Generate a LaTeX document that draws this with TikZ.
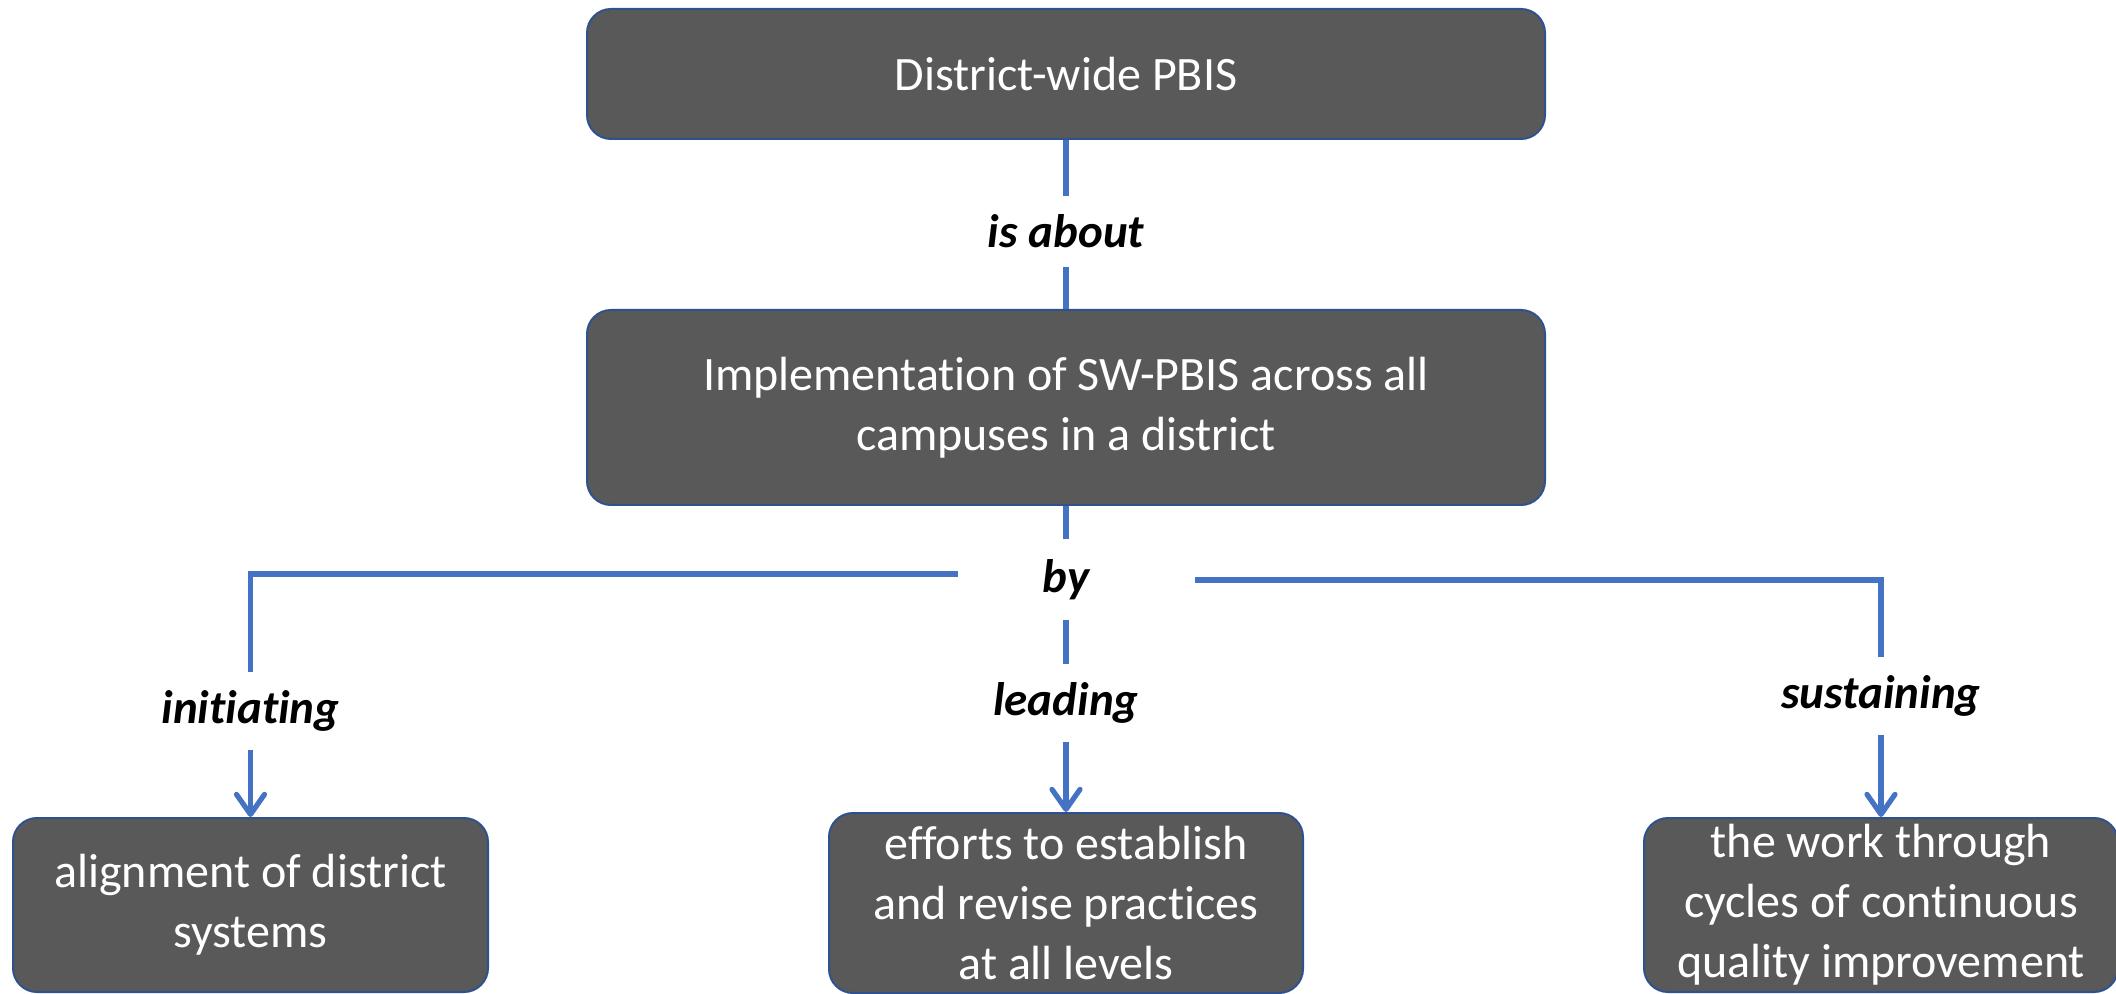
\documentclass[tikz,border=0pt]{standalone}
\usepackage{fontspec}
\setmainfont[Ligatures=NoCommon]{Carlito}
\usetikzlibrary{arrows.meta}
\definecolor{boxfill}{HTML}{595959}
\definecolor{boxedge}{HTML}{2F528F}
\definecolor{connblue}{HTML}{4472C4}
\begin{document}
\begin{tikzpicture}[x=0.5pt,y=-0.5pt,
  box/.style={draw=boxedge, line width=1pt, fill=boxfill, rounded corners=12pt,
    text=white, align=center, font=\fontsize{24}{30}\selectfont, inner sep=0pt},
  lbl/.style={fill=white, inner sep=0pt, font=\fontsize{23.5}{28}\selectfont\bfseries\itshape},
  conn/.style={draw=connblue, line width=2.6pt},
  arr/.style={conn, -{Straight Barb[length=10pt, width=14pt, round]}}
]
\useasboundingbox (0,0) rectangle (2116,994);

\node[box, minimum width=479pt, minimum height=65pt] (top) at (1066,74) {District-wide PBIS};
\node[box, minimum width=479pt, minimum height=97.5pt] (mid) at (1066,407.5) {Implementation of SW-PBIS across all\\campuses in a district};
\node[box, minimum width=237.5pt, minimum height=87pt] (b1) at (250.5,905) {alignment of district\\systems};
\node[box, minimum width=237pt, minimum height=90pt] (b2) at (1066,903) {efforts to establish\\and revise practices\\at all levels};
\node[box, minimum width=237pt, minimum height=87pt] (b3) at (1881,905) {the work through\\cycles of continuous\\quality improvement};

\coordinate (byL) at (958,574);
\coordinate (byR) at (1195,580);

\draw[conn] (top.south) -- (mid.north);
\draw[arr] (mid.south) -- (b2.north);
\draw[arr] (byL) -| (b1.north);
\draw[arr] (byR) -| (b3.north);

\node[lbl, minimum width=60pt, minimum height=35.5pt] (isabout) at (1066,231.5) {is about};
\node[lbl, minimum width=30pt, minimum height=40pt] (by) at (1066,579.5) {by};
\node[lbl, minimum width=40pt, minimum height=39pt] (initiating) at (250.5,711) {initiating};
\node[lbl, minimum width=40pt, minimum height=39pt] (leading) at (1066,703) {leading};
\node[lbl, minimum width=40pt, minimum height=39pt] (sustaining) at (1881,696) {sustaining};
\end{tikzpicture}
\end{document}
